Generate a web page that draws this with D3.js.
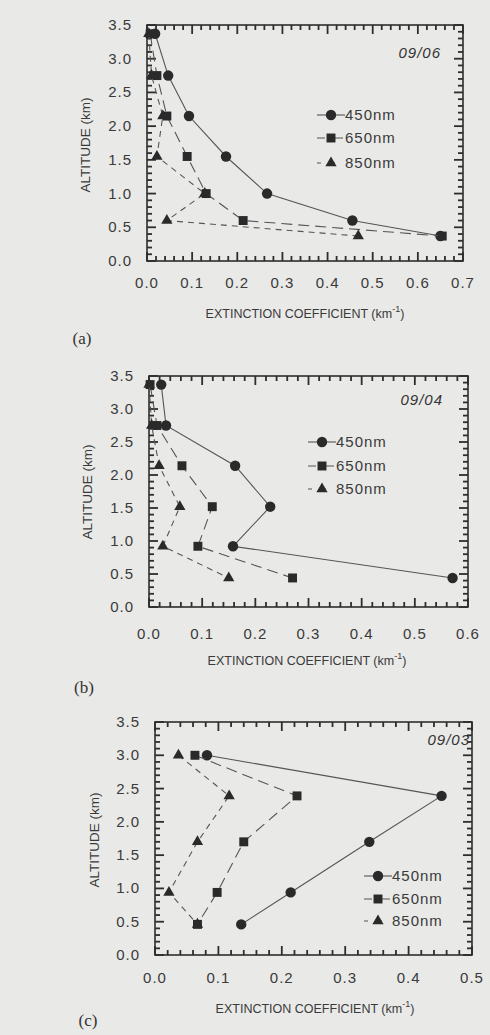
<!DOCTYPE html>
<html>
<head>
<meta charset="utf-8">
<script src="https://cdn.jsdelivr.net/npm/d3@7"></script>
<style>
  body { margin: 0; background: #e9e9e7; }
  svg { display: block; }
  .tick-label { font-family: "Liberation Sans", Arial, sans-serif; font-size: 15px; fill: #3a3a3a; letter-spacing: 1px; }
  .axis-title { font-family: "Liberation Sans", Arial, sans-serif; font-size: 12.5px; fill: #3a3a3a; }
  .legend-label { font-family: "Liberation Sans", Arial, sans-serif; font-size: 15px; fill: #3a3a3a; letter-spacing: 1px; }
  .date-label { font-family: "Liberation Sans", Arial, sans-serif; font-size: 15px; font-style: italic; fill: #333; letter-spacing: 1px; }
  .panel-label { font-family: "Liberation Serif", "Times New Roman", serif; font-size: 17px; fill: #333; }
</style>
</head>
<body>
<script>
//all values (approximate)
var seriesNames = ["450nm", "650nm", "850nm"];
var yTicks = [0.0, 0.5, 1.0, 1.5, 2.0, 2.5, 3.0, 3.5];

//panel (a) 09/06
var altA = [3.37, 2.75, 2.15, 1.55, 1.0, 0.6, 0.37];
var extA450 = [0.018, 0.047, 0.093, 0.175, 0.266, 0.455, 0.650];
var extA650 = [0.007, 0.022, 0.044, 0.089, 0.131, 0.213, 0.654];
var extA850 = [0.004, 0.010, 0.035, 0.022, 0.128, 0.044, 0.468];
var xTicksA = [0.0, 0.1, 0.2, 0.3, 0.4, 0.5, 0.6, 0.7];

//panel (b) 09/04
var altB = [3.37, 2.75, 2.14, 1.52, 0.92, 0.44];
var extB450 = [0.023, 0.032, 0.162, 0.228, 0.158, 0.571];
var extB650 = [0.002, 0.015, 0.062, 0.119, 0.092, 0.270];
var extB850 = [0.000, 0.005, 0.019, 0.058, 0.026, 0.150];
var xTicksB = [0.0, 0.1, 0.2, 0.3, 0.4, 0.5, 0.6];

//panel (c) 09/03
var altC = [3.0, 2.39, 1.70, 0.94, 0.46];
var extC450 = [0.082, 0.452, 0.338, 0.214, 0.136];
var extC650 = [0.063, 0.224, 0.140, 0.098, 0.067];
var extC850 = [0.037, 0.117, 0.067, 0.022, 0.067];
var xTicksC = [0.0, 0.1, 0.2, 0.3, 0.4, 0.5];

var width = 490, height = 1035;
var lineColor = "#555";
var axisColor = "#2e2e2e";
var dashes = [null, "11,6", "6,5"];
var tickW = 1.8;

var svg = d3.select("body").append("svg")
    .attr("width", width)
    .attr("height", height);

//one panel = frame, ticks, lines, markers, legend
function drawPanel(p){
    var x = d3.scaleLinear().domain([0, p.xMax]).range([p.left, p.right]);
    var y = d3.scaleLinear().domain([0, 3.5]).range([p.bottom, p.top]);
    var g = svg.append("g");

    //tick positions: every 0.1 km on y, every 0.02 on x, long ones at labels
    var yAll = d3.range(0, 36).map(function(k){ return {v: k / 10, len: k % 5 === 0 ? 9 : 5}; });
    var nx = Math.round(p.xMax * 50);
    var xAll = d3.range(0, nx + 1).map(function(k){ return {v: k / 50, len: k % 5 === 0 ? 9 : 5}; });

    var tg = g.append("g").attr("fill", axisColor);
    //left and right sides, pointing in
    tg.selectAll(".tl").data(yAll).enter().append("rect")
        .attr("x", p.left).attr("y", function(d){ return y(d.v) - tickW / 2; })
        .attr("width", function(d){ return d.len; }).attr("height", tickW);
    tg.selectAll(".tr").data(yAll).enter().append("rect")
        .attr("x", function(d){ return p.right - d.len; }).attr("y", function(d){ return y(d.v) - tickW / 2; })
        .attr("width", function(d){ return d.len; }).attr("height", tickW);
    //bottom and top
    tg.selectAll(".tb").data(xAll).enter().append("rect")
        .attr("x", function(d){ return x(d.v) - tickW / 2; }).attr("y", function(d){ return p.bottom - d.len; })
        .attr("width", tickW).attr("height", function(d){ return d.len; });
    tg.selectAll(".tt").data(xAll).enter().append("rect")
        .attr("x", function(d){ return x(d.v) - tickW / 2; }).attr("y", p.top)
        .attr("width", tickW).attr("height", function(d){ return d.len; });

    //frame
    g.append("rect")
        .attr("x", p.left).attr("y", p.top)
        .attr("width", p.right - p.left).attr("height", p.bottom - p.top)
        .attr("fill", "none").attr("stroke", axisColor).attr("stroke-width", 1.6);

    //tick labels
    g.selectAll(".ylab").data(yTicks).enter().append("text")
        .attr("class", "tick-label")
        .attr("x", p.left - 15)
        .attr("y", function(d){ return y(d) + 5; })
        .attr("text-anchor", "end")
        .text(function(d){ return d3.format(".1f")(d); });
    g.selectAll(".xlab").data(p.xTicks).enter().append("text")
        .attr("class", "tick-label")
        .attr("x", function(d){ return x(d); })
        .attr("y", p.xLabelY)
        .attr("text-anchor", "middle")
        .text(function(d){ return d3.format(".1f")(d); });

    //axis titles
    g.append("text").attr("class", "axis-title")
        .attr("transform", "translate(" + p.yTitleX + "," + p.yTitleY + ") rotate(-90)")
        .attr("text-anchor", "middle")
        .style("font-size", "13.5px")
        .text("ALTITUDE (km)");
    var xt = g.append("text").attr("class", "axis-title")
        .attr("x", p.xTitleX).attr("y", p.xTitleY)
        .attr("text-anchor", "middle");
    xt.append("tspan").text("EXTINCTION COEFFICIENT (km");
    xt.append("tspan").attr("dy", -6).attr("font-size", "9px").text("-1");
    xt.append("tspan").attr("dy", 6).text(")");

    //profiles
    var line = d3.line()
        .x(function(d){ return x(d[0]); })
        .y(function(d){ return y(d[1]); });
    p.series.forEach(function(ext, i){
        var pts = ext.map(function(v, j){ return [v, p.alt[j]]; });
        g.append("path").datum(pts)
            .attr("d", line)
            .attr("fill", "none")
            .attr("stroke", lineColor)
            .attr("stroke-width", 1.1)
            .attr("stroke-dasharray", dashes[i]);
        g.selectAll(".m" + i).data(pts).enter().append("path")
            .attr("transform", function(d){ return "translate(" + x(d[0]) + "," + y(d[1]) + ")"; })
            .attr("d", markerPath(i))
            .attr("fill", "#2a2a2a");
    });

    //legend
    seriesNames.forEach(function(name, i){
        var ly = p.legY[i];
        g.append("line")
            .attr("x1", p.legX - 14).attr("x2", p.legX + 14)
            .attr("y1", ly).attr("y2", ly)
            .attr("stroke", lineColor).attr("stroke-width", 1.1)
            .attr("stroke-dasharray", i === 0 ? null : (i === 1 ? "8,10" : "4,10"));
        g.append("path")
            .attr("transform", "translate(" + p.legX + "," + ly + ")")
            .attr("d", markerPath(i))
            .attr("fill", "#2a2a2a");
        g.append("text").attr("class", "legend-label")
            .attr("x", p.legX + 14).attr("y", ly + 5)
            .text(name);
    });

    g.append("text").attr("class", "date-label")
        .attr("x", p.dateX).attr("y", p.dateY)
        .attr("text-anchor", "end")
        .text(p.date);

    g.append("text").attr("class", "panel-label")
        .attr("x", p.tagX).attr("y", p.tagY)
        .attr("text-anchor", "middle")
        .text(p.tag);
}

function markerPath(i){
    if (i === 0) return d3.symbol().type(d3.symbolCircle).size(85)();
    if (i === 1) return d3.symbol().type(d3.symbolSquare).size(80)();
    return d3.symbol().type(d3.symbolTriangle).size(55)();
}

drawPanel({
    left: 147, right: 463, top: 25, bottom: 261, xMax: 0.7,
    xTicks: xTicksA, alt: altA, series: [extA450, extA650, extA850],
    xLabelY: 288, xTitleX: 305, xTitleY: 318, yTitleX: 90, yTitleY: 145,
    legX: 331, legY: [115, 138, 163], date: "09/06", dateX: 441, dateY: 58,
    tag: "(a)", tagX: 82, tagY: 344
});
drawPanel({
    left: 149, right: 468, top: 376, bottom: 607, xMax: 0.6,
    xTicks: xTicksB, alt: altB, series: [extB450, extB650, extB850],
    xLabelY: 639, xTitleX: 307, xTitleY: 665, yTitleX: 92, yTitleY: 492,
    legX: 322, legY: [442, 466, 489], date: "09/04", dateX: 443, dateY: 405,
    tag: "(b)", tagX: 84, tagY: 693
});
drawPanel({
    left: 155, right: 472, top: 722, bottom: 955, xMax: 0.5,
    xTicks: xTicksC, alt: altC, series: [extC450, extC650, extC850],
    xLabelY: 983, xTitleX: 315, xTitleY: 1013, yTitleX: 99, yTitleY: 840,
    legX: 378, legY: [876, 899, 921], date: "09/03", dateX: 470, dateY: 745,
    tag: "(c)", tagX: 88, tagY: 1026
});
</script>
</body>
</html>
